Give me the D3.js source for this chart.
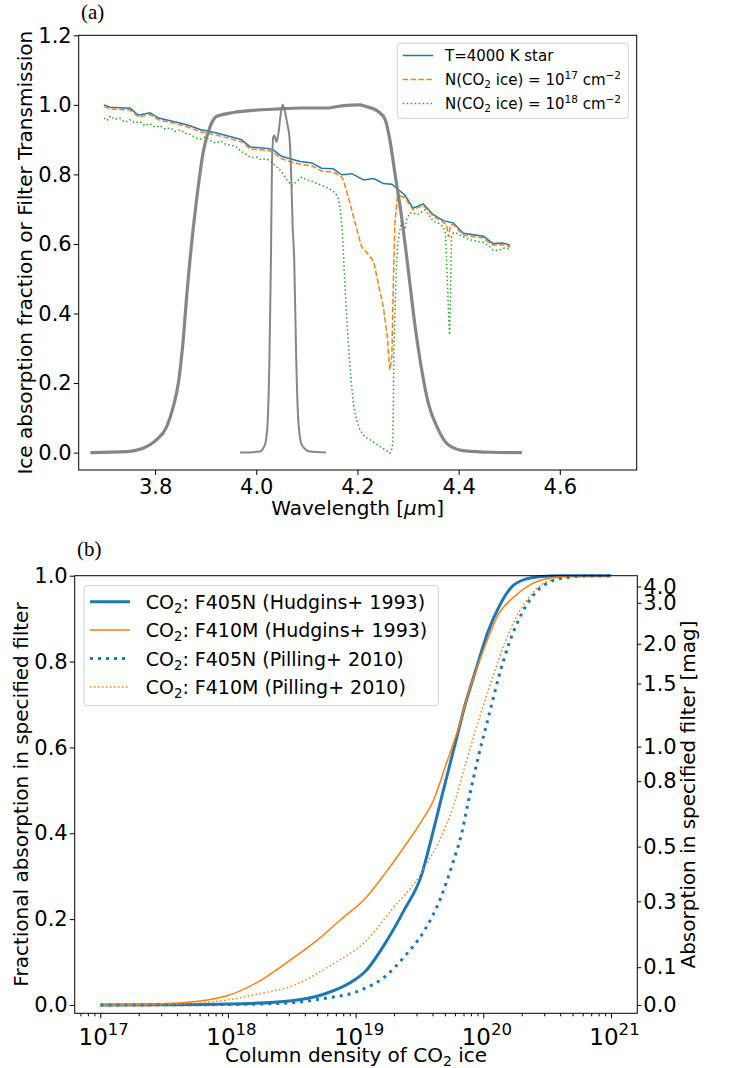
<!DOCTYPE html>
<html><head><meta charset="utf-8">
<script src="https://cdn.jsdelivr.net/npm/d3@7"></script>
<style>body{margin:0;background:#fff}</style>
</head><body>
<svg id="c" width="731" height="1068"></svg>
<script>
// ---------- Panel (a) data ----------
const starWl  = [3.699,3.711,3.751,3.767,3.790,3.807,3.849,3.869,3.889,3.922,3.955,3.971,3.988,4.027,4.035,4.050,4.067,4.087,4.110,4.129,4.152,4.169,4.189,4.212,4.232,4.251,4.268,4.277,4.294,4.310,4.330,4.350,4.370,4.390,4.409,4.449,4.468,4.488,4.502];
const starVal = [1.000,0.993,0.990,0.970,0.977,0.962,0.948,0.940,0.929,0.919,0.906,0.900,0.879,0.874,0.869,0.852,0.845,0.837,0.833,0.818,0.816,0.799,0.802,0.784,0.788,0.774,0.772,0.761,0.740,0.703,0.715,0.684,0.667,0.660,0.631,0.622,0.601,0.603,0.596];

const ice17Wl  = [3.699,3.711,3.751,3.767,3.790,3.807,3.849,3.869,3.889,3.922,3.955,3.971,3.988,4.027,4.035,4.050,4.067,4.087,4.110,4.129,4.152,4.166,4.172,4.185,4.199,4.208,4.222,4.232,4.241,4.251,4.259,4.264,4.268,4.271,4.274,4.279,4.288,4.294,4.310,4.330,4.350,4.370,4.376,4.380,4.384,4.390,4.409,4.449,4.468,4.488,4.502];
const ice17Val = [0.995,0.988,0.985,0.965,0.972,0.957,0.943,0.934,0.923,0.913,0.900,0.894,0.873,0.868,0.862,0.845,0.837,0.829,0.825,0.810,0.806,0.797,0.785,0.718,0.641,0.593,0.569,0.550,0.487,0.420,0.334,0.238,0.276,0.487,0.660,0.737,0.737,0.733,0.698,0.711,0.680,0.662,0.655,0.620,0.655,0.655,0.626,0.617,0.596,0.598,0.591];

const ice18Wl  = [3.699,3.705,3.712,3.720,3.730,3.740,3.750,3.760,3.770,3.780,3.790,3.800,3.810,3.820,3.830,3.840,3.850,3.860,3.870,3.880,3.890,3.900,3.910,3.920,3.930,3.940,3.950,3.960,3.970,3.980,3.990,4.000,4.010,4.020,4.030,4.040,4.050,4.060,4.070,4.080,4.090,4.100,4.110,4.120,4.130,4.140,4.150,4.157,4.162,4.166,4.170,4.173,4.176,4.180,4.184,4.188,4.192,4.198,4.205,4.215,4.225,4.235,4.245,4.255,4.264,4.268,4.270,4.271,4.272,4.274,4.276,4.278,4.280,4.284,4.287,4.291,4.294,4.297,4.304,4.310,4.317,4.325,4.334,4.340,4.350,4.360,4.370,4.374,4.376,4.378,4.380,4.382,4.384,4.385,4.386,4.390,4.396,4.410,4.423,4.435,4.449,4.460,4.468,4.478,4.490,4.502];
const ice18Val = [0.962,0.955,0.968,0.958,0.962,0.950,0.957,0.948,0.952,0.940,0.946,0.935,0.940,0.930,0.934,0.924,0.928,0.918,0.915,0.905,0.902,0.908,0.897,0.890,0.896,0.886,0.884,0.880,0.866,0.858,0.848,0.850,0.842,0.845,0.836,0.822,0.808,0.785,0.768,0.780,0.792,0.784,0.780,0.774,0.768,0.762,0.754,0.745,0.730,0.700,0.640,0.550,0.460,0.360,0.270,0.200,0.142,0.095,0.065,0.045,0.037,0.027,0.017,0.008,-0.002,0.010,0.030,0.150,0.296,0.400,0.487,0.560,0.602,0.640,0.665,0.648,0.641,0.670,0.689,0.690,0.684,0.690,0.698,0.685,0.665,0.660,0.649,0.630,0.560,0.487,0.400,0.339,0.450,0.550,0.622,0.632,0.631,0.620,0.612,0.608,0.604,0.594,0.583,0.581,0.588,0.585];

const f410mWl  = [3.672,3.744,3.777,3.803,3.823,3.836,3.846,3.855,3.863,3.869,3.882,3.896,3.909,3.922,3.955,3.994,4.041,4.087,4.139,4.172,4.205,4.215,4.241,4.255,4.264,4.274,4.288,4.298,4.314,4.327,4.340,4.357,4.380,4.413,4.465,4.525];
const f410mVal = [0.000,0.003,0.013,0.037,0.075,0.132,0.200,0.315,0.459,0.555,0.727,0.871,0.938,0.967,0.978,0.984,0.988,0.991,0.991,0.998,1.000,0.996,0.981,0.957,0.900,0.804,0.670,0.555,0.363,0.238,0.142,0.075,0.022,0.005,0.001,0.000];

const f405nWl  = [3.968,4.007,4.017,4.022,4.026,4.029,4.031,4.034,4.036,4.040,4.044,4.048,4.052,4.056,4.061,4.066,4.069,4.072,4.075,4.079,4.083,4.090,4.106,4.138];
const f405nVal = [0.000,0.003,0.022,0.075,0.267,0.555,0.823,0.909,0.912,0.893,0.920,0.970,1.000,0.985,0.948,0.900,0.800,0.650,0.555,0.267,0.094,0.022,0.003,0.000];

const waveTicks = [3.8, 4.0, 4.2, 4.4, 4.6];
const fracTicksA = [0.0, 0.2, 0.4, 0.6, 0.8, 1.0, 1.2];

// ---------- Panel (b) data ----------
const hudF405Log  = [17.0,17.5,18.0,18.5,18.75,19.0,19.075,19.23,19.38,19.52,19.59,19.67,19.78,19.86,19.94,20.04,20.12,20.22,20.33,20.46,20.6,20.8,21.0];
const hudF405Frac = [0,0.0005,0.002,0.010,0.025,0.060,0.078,0.143,0.221,0.306,0.384,0.480,0.609,0.702,0.779,0.872,0.926,0.973,0.992,0.998,1.0,1.0,1.0];
const hudF410Log  = [17.0,17.5,17.75,18.0,18.26,18.49,18.70,18.88,19.075,19.23,19.38,19.52,19.61,19.71,19.80,19.89,20.00,20.12,20.25,20.38,20.51,20.7,21.0];
const hudF410Frac = [0,0.003,0.008,0.022,0.058,0.105,0.151,0.198,0.248,0.306,0.368,0.430,0.477,0.562,0.640,0.733,0.826,0.911,0.953,0.981,0.994,1.0,1.0];
const pilF405Log  = [17.0,18.0,18.5,18.75,19.0,19.075,19.23,19.38,19.54,19.67,19.76,19.83,19.88,19.96,20.04,20.12,20.20,20.30,20.41,20.54,20.69,20.85,21.0];
const pilF405Frac = [0,0.001,0.005,0.015,0.030,0.039,0.066,0.112,0.174,0.252,0.330,0.399,0.470,0.577,0.670,0.763,0.841,0.911,0.961,0.988,0.997,1.0,1.0];
const pilF410Log  = [17.0,17.5,18.0,18.26,18.49,18.83,19.075,19.28,19.52,19.78,19.86,19.96,20.07,20.17,20.27,20.38,20.51,20.67,20.85,21.0];
const pilF410Frac = [0,0.001,0.012,0.027,0.043,0.097,0.147,0.221,0.310,0.477,0.560,0.660,0.760,0.845,0.910,0.957,0.988,0.997,1.0,1.0];

const decadeTicks = [1e17, 1e18, 1e19, 1e20, 1e21];
const fracTicksB = [0.0, 0.2, 0.4, 0.6, 0.8, 1.0];
const magTicks = [0.0, 0.1, 0.3, 0.5, 0.8, 1.0, 1.5, 2.0, 3.0, 4.0];

// ---------- drawing ----------
const FONT = "DejaVu Sans, sans-serif";
const TICK_FS = 21, LABEL_FS = 20;
const svg = d3.select("#c");
const zip = (a, b) => a.map((v, i) => [v, b[i]]);

function rich(sel, parts, size, supScale) {
  let cur = 0;
  const sc = supScale || 0.7;
  parts.forEach(p => {
    const target = p.sub ? size * 0.22 : p.sup ? -size * 0.42 : 0;
    const ts = sel.append("tspan").text(p.t).attr("dy", target - cur);
    if (p.sub || p.sup) ts.attr("font-size", size * sc);
    cur = target;
  });
}
function styleAxis(g, fs) {
  g.select(".domain").remove();
  g.attr("font-family", FONT).attr("font-size", fs);
  g.selectAll("text").attr("fill", "#000");
  g.selectAll("line").attr("stroke", "#000").attr("stroke-width", 1);
}

// ===== Panel (a) =====
const xA = d3.scaleLinear().domain([3.649, 4.752]).range([78.7, 636.7]);
const yA = d3.scaleLinear().domain([-0.05, 1.2]).range([470, 35.3]);

const gA = svg.append("g");
const lineA = d3.line().x(d => xA(d[0])).y(d => yA(d[1]));
const lineAs = d3.line().x(d => xA(d[0])).y(d => yA(d[1])).curve(d3.curveMonotoneX);

gA.append("path").attr("d", lineA(zip(starWl, starVal))).attr("fill", "none")
  .attr("stroke", "#1f77b4").attr("stroke-width", 1.5);
gA.append("path").attr("d", lineA(zip(ice17Wl, ice17Val))).attr("fill", "none")
  .attr("stroke", "#ff7f0e").attr("stroke-width", 1.5).attr("stroke-dasharray", "5.5,2.4");
gA.append("path").attr("d", lineA(zip(ice18Wl, ice18Val))).attr("fill", "none")
  .attr("stroke", "#2ca02c").attr("stroke-width", 1.5).attr("stroke-dasharray", "1.5,2.5");
gA.append("path").attr("d", lineAs(zip(f410mWl, f410mVal))).attr("fill", "none")
  .attr("stroke", "#7f7f7f").attr("stroke-width", 3.2).attr("stroke-opacity", 0.95);
gA.append("path").attr("d", lineAs(zip(f405nWl, f405nVal))).attr("fill", "none")
  .attr("stroke", "#7f7f7f").attr("stroke-width", 2).attr("stroke-opacity", 0.95);

const axA_x = svg.append("g").attr("transform", `translate(0,${yA.range()[0]})`)
  .call(d3.axisBottom(xA).tickValues(waveTicks).tickFormat(d3.format(".1f")).tickSize(5).tickPadding(4));
styleAxis(axA_x, TICK_FS);
axA_x.selectAll(".tick text").attr("dy", null).attr("y", 24);
const axA_y = svg.append("g").attr("transform", `translate(${xA.range()[0]},0)`)
  .call(d3.axisLeft(yA).tickValues(fracTicksA).tickFormat(d3.format(".1f")).tickSize(5).tickPadding(2));
styleAxis(axA_y, TICK_FS);

svg.append("rect").attr("x", xA.range()[0]).attr("y", yA.range()[1])
  .attr("width", xA.range()[1] - xA.range()[0]).attr("height", yA.range()[0] - yA.range()[1])
  .attr("fill", "none").attr("stroke", "#000").attr("stroke-width", 1);

// labels (a)
svg.append("text").attr("x", 81).attr("y", 19).attr("font-family", "Liberation Serif, Times New Roman, serif")
  .attr("font-size", 21).text("(a)");
const xlabA = svg.append("text").attr("x", (xA.range()[0] + xA.range()[1]) / 2).attr("y", 515)
  .attr("text-anchor", "middle").attr("font-family", FONT).attr("font-size", LABEL_FS);
xlabA.append("tspan").text("Wavelength [");
xlabA.append("tspan").attr("font-style", "italic").text("μ");
xlabA.append("tspan").text("m]");
svg.append("text").attr("transform", `translate(32,${(yA.range()[0] + yA.range()[1]) / 2}) rotate(-90)`)
  .attr("text-anchor", "middle").attr("font-family", FONT).attr("font-size", LABEL_FS)
  .text("Ice absorption fraction or Filter Transmission");

// legend (a)
const legA = svg.append("g").attr("font-family", FONT).attr("font-size", 15);
legA.append("rect").attr("x", 397.3).attr("y", 43.3).attr("width", 231).attr("height", 75)
  .attr("rx", 3).attr("fill", "#fff").attr("fill-opacity", 0.8).attr("stroke", "#d0d0d0");
const legAItems = [
  {color: "#1f77b4", dash: null, parts: [{t: "T=4000 K star"}]},
  {color: "#ff7f0e", dash: "5.5,2.4", parts: [{t: "N(CO"}, {t: "2", sub: true}, {t: " ice) = 10"}, {t: "17", sup: true}, {t: " cm"}, {t: "−2", sup: true}]},
  {color: "#2ca02c", dash: "1.5,2.5", parts: [{t: "N(CO"}, {t: "2", sub: true}, {t: " ice) = 10"}, {t: "18", sup: true}, {t: " cm"}, {t: "−2", sup: true}]}
];
legAItems.forEach((it, i) => {
  const y = 55.5 + i * 24;
  const ln = legA.append("line").attr("x1", 402.7).attr("x2", 433.3).attr("y1", y).attr("y2", y)
    .attr("stroke", it.color).attr("stroke-width", 1.5);
  if (it.dash) ln.attr("stroke-dasharray", it.dash);
  const t = legA.append("text").attr("x", 445).attr("y", y + 5.5);
  rich(t, it.parts, 15);
});

// ===== Panel (b) =====
const xB = d3.scaleLog().domain([Math.pow(10, 16.8), Math.pow(10, 21.206)]).range([74.7, 637.3]);
const yB = d3.scaleLinear().domain([-0.0194, 1.0]).range([1013.3, 575.7]);
const lineB = d3.line().x(d => xB(Math.pow(10, d[0]))).y(d => yB(d[1])).curve(d3.curveMonotoneX);

const gB = svg.append("g");
gB.append("path").attr("d", lineB(zip(hudF405Log, hudF405Frac))).attr("fill", "none")
  .attr("stroke", "#1f77b4").attr("stroke-width", 3);
gB.append("path").attr("d", lineB(zip(hudF410Log, hudF410Frac))).attr("fill", "none")
  .attr("stroke", "#ff7f0e").attr("stroke-width", 1.5);
gB.append("path").attr("d", lineB(zip(pilF405Log, pilF405Frac))).attr("fill", "none")
  .attr("stroke", "#1f77b4").attr("stroke-width", 3).attr("stroke-dasharray", "3,5");
gB.append("path").attr("d", lineB(zip(pilF410Log, pilF410Frac))).attr("fill", "none")
  .attr("stroke", "#ff7f0e").attr("stroke-width", 1.5).attr("stroke-dasharray", "1.5,2.5");

// minor ticks
const minorVals = [];
for (let e = 16; e <= 21; e++) for (let k = 2; k <= 9; k++) {
  const v = k * Math.pow(10, e);
  if (v > xB.domain()[0] && v < xB.domain()[1]) minorVals.push(v);
}
const axB_minor = svg.append("g").attr("transform", `translate(0,${yB.range()[0]})`)
  .call(d3.axisBottom(xB).tickValues(minorVals).tickFormat("").tickSize(3));
styleAxis(axB_minor, TICK_FS);

const DEC_FS = 23;
const axB_x = svg.append("g").attr("transform", `translate(0,${yB.range()[0]})`)
  .call(d3.axisBottom(xB).tickValues(decadeTicks).tickFormat("").tickSize(5));
styleAxis(axB_x, DEC_FS);
axB_x.selectAll(".tick text").each(function(d) {
  const t = d3.select(this).attr("dy", null).attr("y", 31.5).attr("x", 3);
  t.text("");
  rich(t, [{t: "10"}, {t: String(Math.round(Math.log10(d))), sup: true}], DEC_FS, 0.72);
});

const axB_y = svg.append("g").attr("transform", `translate(${xB.range()[0]},0)`)
  .call(d3.axisLeft(yB).tickValues(fracTicksB).tickFormat(d3.format(".1f")).tickSize(5).tickPadding(2));
styleAxis(axB_y, TICK_FS);

const magToFrac = m => 1 - Math.pow(10, -0.4 * m);
const axB_r = svg.append("g").attr("transform", `translate(${xB.range()[1]},0)`)
  .call(d3.axisRight(yB).tickValues(magTicks.map(magToFrac))
    .tickFormat((d, i) => magTicks[i].toFixed(1)).tickSize(4).tickPadding(2));
styleAxis(axB_r, TICK_FS);

svg.append("rect").attr("x", xB.range()[0]).attr("y", yB.range()[1])
  .attr("width", xB.range()[1] - xB.range()[0]).attr("height", yB.range()[0] - yB.range()[1])
  .attr("fill", "none").attr("stroke", "#000").attr("stroke-width", 1);

// labels (b)
svg.append("text").attr("x", 77).attr("y", 556).attr("font-family", "Liberation Serif, Times New Roman, serif")
  .attr("font-size", 21).text("(b)");
const xlabB = svg.append("text").attr("x", (xB.range()[0] + xB.range()[1]) / 2).attr("y", 1062)
  .attr("text-anchor", "middle").attr("font-family", FONT).attr("font-size", LABEL_FS);
rich(xlabB, [{t: "Column density of CO"}, {t: "2", sub: true}, {t: " ice"}], LABEL_FS);
svg.append("text").attr("transform", `translate(28,${(yB.range()[0] + yB.range()[1]) / 2}) rotate(-90)`)
  .attr("text-anchor", "middle").attr("font-family", FONT).attr("font-size", LABEL_FS)
  .text("Fractional absorption in specified filter");
svg.append("text").attr("transform", `translate(695,${(yB.range()[0] + yB.range()[1]) / 2}) rotate(-90)`)
  .attr("text-anchor", "middle").attr("font-family", FONT).attr("font-size", LABEL_FS)
  .text("Absorption in specified filter [mag]");

// legend (b)
const LEGB_FS = 19;
const legB = svg.append("g").attr("font-family", FONT).attr("font-size", LEGB_FS);
legB.append("rect").attr("x", 84).attr("y", 585.7).attr("width", 354.3).attr("height", 120)
  .attr("rx", 3).attr("fill", "#fff").attr("fill-opacity", 0.8).attr("stroke", "#d0d0d0");
const legBItems = [
  {color: "#1f77b4", w: 3, dash: null, txt: ": F405N (Hudgins+ 1993)"},
  {color: "#ff7f0e", w: 1.5, dash: null, txt: ": F410M (Hudgins+ 1993)"},
  {color: "#1f77b4", w: 3, dash: "3,5", txt: ": F405N (Pilling+ 2010)"},
  {color: "#ff7f0e", w: 1.5, dash: "1.5,2.5", txt: ": F410M (Pilling+ 2010)"}
];
legBItems.forEach((it, i) => {
  const y = 601.7 + i * 28.4;
  const ln = legB.append("line").attr("x1", 90).attr("x2", 130).attr("y1", y).attr("y2", y)
    .attr("stroke", it.color).attr("stroke-width", it.w);
  if (it.dash) ln.attr("stroke-dasharray", it.dash);
  const t = legB.append("text").attr("x", 145.7).attr("y", y + 7);
  rich(t, [{t: "CO"}, {t: "2", sub: true}, {t: it.txt}], LEGB_FS);
});
</script>
</body></html>
